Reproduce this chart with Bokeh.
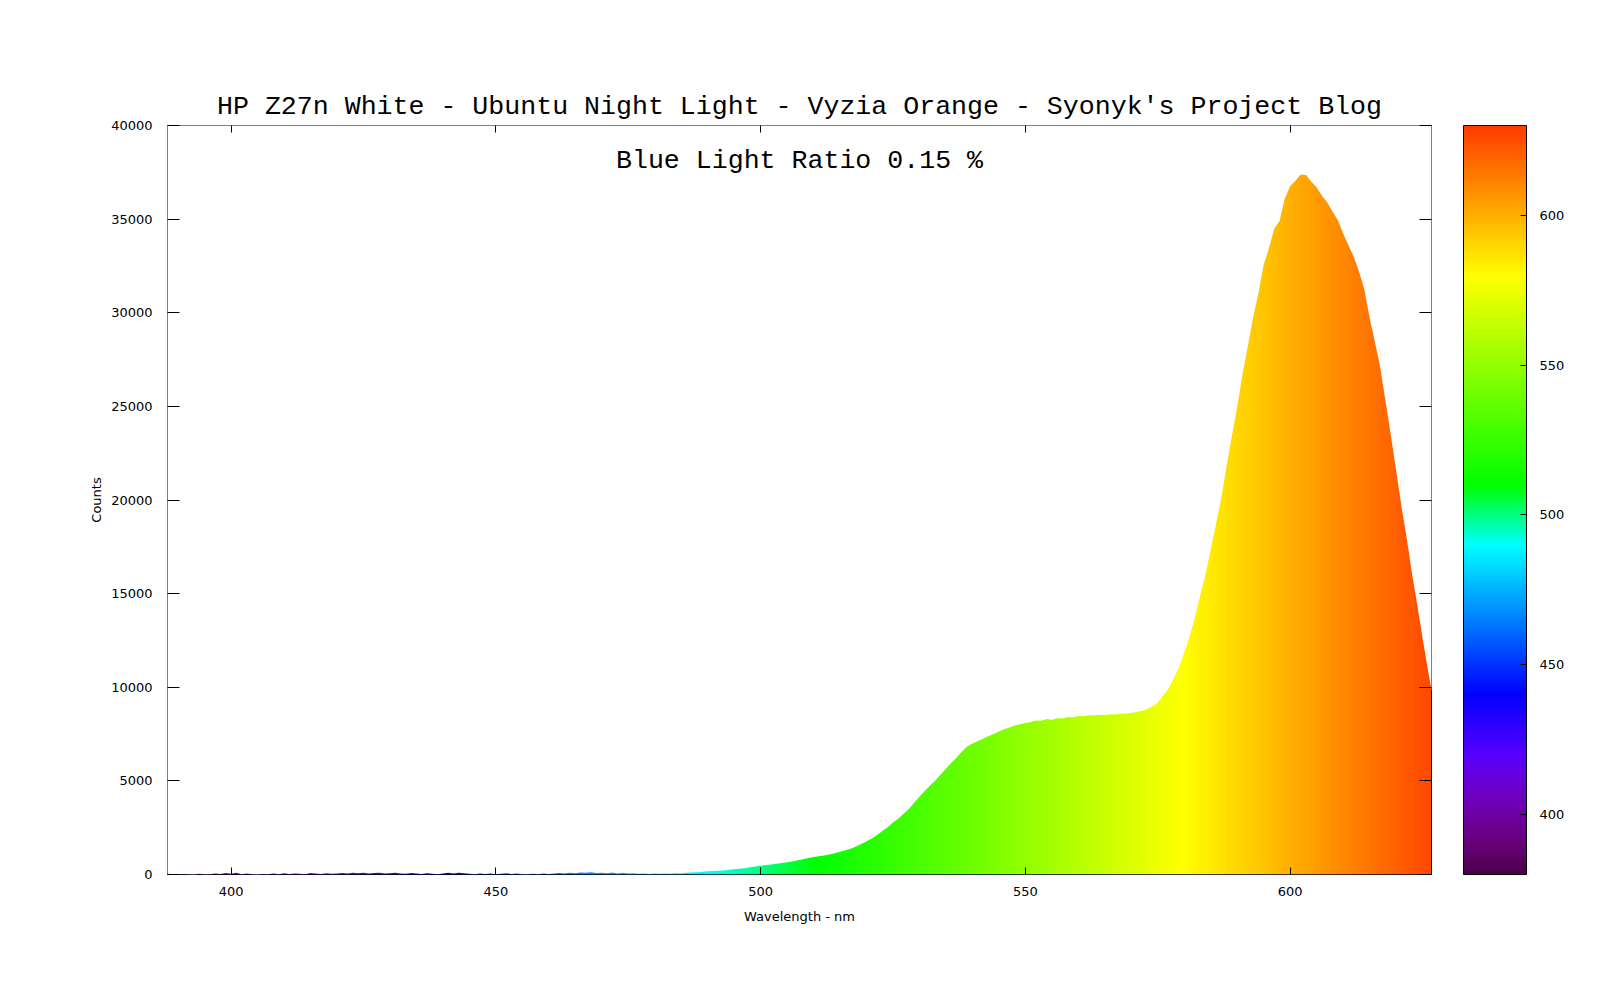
import numpy as np
from bokeh.plotting import figure
from bokeh.models import (LinearColorMapper, ColorBar, FixedTicker, LinearAxis,
                          Label, Range1d)
from bokeh.embed import file_html
from bokeh.resources import INLINE

# ---------------- data ----------------
wavelength_nm = list(range(387, 628))
counts = [
    30,
    40, 20, 0, 30, 10, 0, 40, 20, 10, 60, 30, 80,
    40, 90, 20, 60, 10, 0, 30, 20, 50, 10,
    70, 30, 60, 40, 20, 80, 50, 30, 70, 40,
    60, 80, 50, 90, 70, 100, 60, 80, 90, 50,
    70, 100, 60, 40, 80, 50, 30, 70, 40, 20,
    60, 90, 50, 100, 70, 40, 20, 50, 30, 60,
    20, 40, 70, 30, 50, 20, 10, 40, 20, 60,
    30, 50, 80, 60, 100, 70, 110, 90, 120, 80,
    100, 70, 110, 60, 90, 50, 70, 40, 60, 30,
    50, 40, 60, 40, 70, 60, 90, 110, 120, 150,
    170, 190, 200, 220, 260, 280, 310, 340, 390, 430,
    470, 510, 540, 570, 610, 660, 700, 760, 820, 880,
    930, 970, 1020, 1070, 1140, 1220, 1290, 1380, 1490, 1630,
    1770, 1920, 2110, 2320, 2520, 2780, 2980, 3250, 3500, 3830,
    4150, 4460, 4750, 5020, 5340, 5650, 5960, 6250, 6560, 6830,
    7000, 7120, 7250, 7380, 7510, 7640, 7760, 7850, 7960, 8030,
    8090, 8150, 8230, 8210, 8300, 8270, 8350, 8330, 8410, 8400,
    8470, 8450, 8510, 8490, 8530, 8520, 8560, 8540, 8580, 8600,
    8640, 8680, 8740, 8820, 8980, 9170, 9560, 9900, 10450, 11050,
    11850, 12700, 13700, 14880, 15980, 17350, 18700, 20100, 21800, 23400,
    24950, 26700, 28200, 29750, 31000, 32550, 33450, 34500, 34900, 36100,
    36750, 37050, 37380, 37350, 37000, 36700, 36250, 35900, 35400, 34950,
    34250, 33600, 33000, 32200, 31250, 29750, 28450, 27100, 25300, 23500,
    21600, 19700, 18000, 16100, 14400, 12650, 10950, 9400,
]
x_ticks = [400, 450, 500, 550, 600]
y_ticks = [0, 5000, 10000, 15000, 20000, 25000, 30000, 35000, 40000]
colorbar_ticks = [400, 450, 500, 550, 600]
title_text = "HP Z27n White - Ubuntu Night Light - Vyzia Orange - Syonyk's Project Blog"
ratio_text = "Blue Light Ratio 0.15 %"

# ---------------- palette (wavelength -> visible colour) ----------------
def spectrum_hex(w):
    if w < 440:
        r, g, b = -(w - 440) / 60.0, 0.0, 1.0
    elif w < 490:
        r, g, b = 0.0, (w - 440) / 50.0, 1.0
    elif w < 510:
        r, g, b = 0.0, 1.0, -(w - 510) / 20.0
    elif w < 580:
        r, g, b = (w - 510) / 70.0, 1.0, 0.0
    elif w < 645:
        r, g, b = 1.0, -(w - 645) / 65.0, 0.0
    else:
        r, g, b = 1.0, 0.0, 0.0
    f = 0.3 + 0.7 * (w - 380) / 40.0 if w < 420 else 1.0
    return "#%02x%02x%02x" % tuple(int(round(255 * max(0, min(1, c * f)))) for c in (r, g, b))

palette = [spectrum_hex(380 + 250 * i / 255.0) for i in range(256)]
mapper = LinearColorMapper(palette=palette, low=380, high=630)

# ---------------- figure ----------------
x_lo, x_hi = 388, 626.7
p = figure(x_range=Range1d(x_lo, x_hi), y_range=Range1d(0, 40000),
           frame_width=1264, frame_height=749,
           min_border_left=167, min_border_right=160,
           min_border_top=125, min_border_bottom=105,
           output_backend="svg", toolbar_location=None,
           background_fill_color="white", border_fill_color="white")
p.grid.visible = False
p.outline_line_color = "black"
p.outline_line_width = 1

# colour gradient along wavelength (kept just inside the frame), masked above the curve
g_lo, g_hi = x_lo + 0.1, x_hi - 0.1
gradient = np.linspace(g_lo, g_hi, 1200)[None, :]
p.image(image=[gradient], x=g_lo, y=0, dw=g_hi - g_lo, dh=38500, color_mapper=mapper)
p.varea(x=wavelength_nm, y1=counts, y2=43000, fill_color="white", fill_alpha=1.0)

# title
p.title.text = title_text
p.title.align = "center"
p.title.text_font = "Liberation Mono"
p.title.text_font_size = "26.6px"
p.title.text_font_style = "normal"
p.title.text_color = "black"
p.title.standoff = 8

tick_font = "DejaVu Sans"

# bottom x axis
xa = p.xaxis[0]
xa.ticker = FixedTicker(ticks=x_ticks)
xa.axis_label = "Wavelength - nm"
xa.axis_line_color = None
xa.major_tick_in = 7
xa.major_tick_out = 0
xa.major_tick_line_color = "black"
xa.minor_tick_line_color = None
xa.major_label_text_font = tick_font
xa.major_label_text_font_size = "13px"
xa.major_label_text_color = "black"
xa.major_label_standoff = 12
xa.axis_label_text_font = tick_font
xa.axis_label_text_font_size = "13px"
xa.axis_label_text_font_style = "normal"
xa.axis_label_text_color = "black"
xa.axis_label_standoff = 10

# left y axis
ya = p.yaxis[0]
ya.ticker = FixedTicker(ticks=y_ticks)
ya.axis_label = "Counts"
ya.axis_line_color = None
ya.major_tick_in = 12
ya.major_tick_out = 0
ya.major_tick_line_color = "black"
ya.minor_tick_line_color = None
ya.major_label_text_font = tick_font
ya.major_label_text_font_size = "13px"
ya.major_label_text_color = "black"
ya.major_label_standoff = 15
ya.axis_label_text_font = tick_font
ya.axis_label_text_font_size = "13px"
ya.axis_label_text_font_style = "normal"
ya.axis_label_text_color = "black"
ya.axis_label_standoff = 4

# mirrored ticks on top and right (no labels)
top_axis = LinearAxis(ticker=FixedTicker(ticks=x_ticks), major_tick_in=7, major_tick_out=0,
                      axis_line_color=None, minor_tick_line_color=None,
                      major_tick_line_color="black", major_label_text_font_size="0px",
                      major_label_text_color=None, major_label_standoff=0)
p.add_layout(top_axis, "above")
right_axis = LinearAxis(ticker=FixedTicker(ticks=y_ticks), major_tick_in=12, major_tick_out=0,
                        axis_line_color=None, minor_tick_line_color=None,
                        major_tick_line_color="black", major_label_text_font_size="0px",
                        major_label_text_color=None, major_label_standoff=0)
p.add_layout(right_axis, "right")

# ratio annotation
p.add_layout(Label(x=507.35, y=38090, text=ratio_text, text_align="center",
                   text_baseline="alphabetic", text_font="Liberation Mono",
                   text_font_size="26.6px", text_color="black"))

# colour bar
cb = ColorBar(color_mapper=mapper, ticker=FixedTicker(ticks=colorbar_ticks),
              width=63, height=749, location=(1296, 0), margin=0, padding=0,
              bar_line_color="black", major_tick_line_color="black",
              major_tick_in=6, major_tick_out=0, minor_tick_line_color=None,
              major_label_text_font=tick_font, major_label_text_font_size="13px",
              major_label_text_color="black",
              label_standoff=13, background_fill_alpha=0, border_line_color=None)
p.add_layout(cb, "center")

open("out.html", "w").write(file_html(p, INLINE))
